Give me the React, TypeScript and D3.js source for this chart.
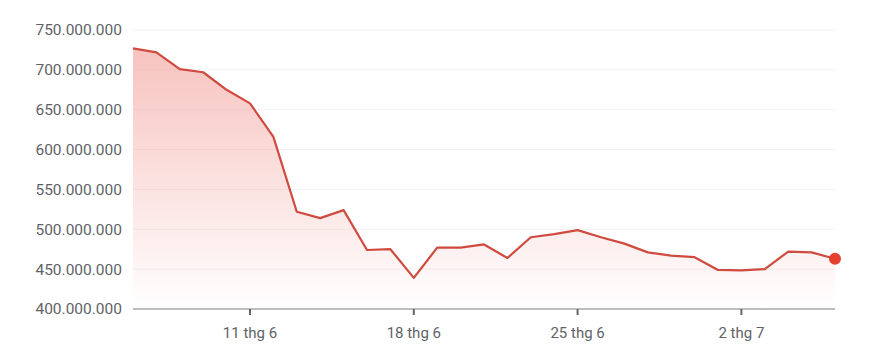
import React from "react";
import * as d3 from "d3";

const startDate = "2024-06-06";
const values: number[] = [
  727, 722, 701, 697, 675, 658, 616, 522, 514, 524,
  474, 475, 439, 477, 477, 481, 464, 490, 494, 499,
  490, 482, 471, 467, 465, 449, 448.5, 450, 472, 471, 463,
];
const yTicks: number[] = [400, 450, 500, 550, 600, 650, 700, 750];
const xTickDates: string[] = ["2024-06-11", "2024-06-18", "2024-06-25", "2024-07-02"];
const xTickLabels: string[] = ["11 thg 6", "18 thg 6", "25 thg 6", "2 thg 7"];

const W = 870, H = 363;
const left = 133, right = 835, top = 30, bottom = 309;

export default function App() {
  const parse = d3.utcParse("%Y-%m-%d");
  const d0 = parse(startDate)!;
  const data = values.map((v, i) => ({ date: d3.utcDay.offset(d0, i), v }));
  const x = d3.scaleUtc().domain([data[0].date, data[data.length - 1].date]).range([left, right]);
  const y = d3.scaleLinear().domain([400, 750]).range([bottom, top]);
  const line = d3.line<any>().x(d => x(d.date)).y(d => y(d.v));
  const area = d3.area<any>().x(d => x(d.date)).y0(bottom).y1(d => y(d.v));
  const last = data[data.length - 1];
  const font = "Roboto, Arial, sans-serif";
  return (
    <svg width={W} height={H} style={{ position: "absolute", left: 0, top: 0, background: "#fff" }}>
      <defs>
        <linearGradient id="fillg" x1="0" y1={y(730)} x2="0" y2={bottom} gradientUnits="userSpaceOnUse">
          <stop offset="0" stopColor="#f19a93" stopOpacity={0.6} />
          <stop offset="1" stopColor="#f19a93" stopOpacity={0} />
        </linearGradient>
      </defs>
      {yTicks.slice(1).map(t => (
        <line key={t} x1={left} x2={right} y1={y(t)} y2={y(t)} stroke="#f2f2f2" strokeWidth={1} />
      ))}
      <path d={area(data) || ""} fill="url(#fillg)" />
      <line x1={left} x2={right} y1={bottom} y2={bottom} stroke="#a8a8a8" strokeWidth={1.5} />
      {xTickDates.map((s, i) => {
        const px = x(parse(s)!);
        return (
          <g key={s}>
            <line x1={px} x2={px} y1={bottom} y2={bottom + 6} stroke="#666" strokeWidth={2} />
            <text x={px} y={338} textAnchor="middle" fontFamily={font} fontSize={15} fill="#5f6368">{xTickLabels[i]}</text>
          </g>
        );
      })}
      {yTicks.map(t => (
        <text key={t} x={122} y={y(t)} dy="0.35em" textAnchor="end" fontFamily={font} fontSize={15.5} fill="#5f6368">
          {d3.format(",")(t * 1e6).replace(/,/g, ".")}
        </text>
      ))}
      <path d={line(data) || ""} fill="none" stroke="#cf4a3f" strokeWidth={2.2} strokeLinejoin="round" />
      <circle cx={x(last.date)} cy={y(last.v)} r={6} fill="#e5402f" />
    </svg>
  );
}
